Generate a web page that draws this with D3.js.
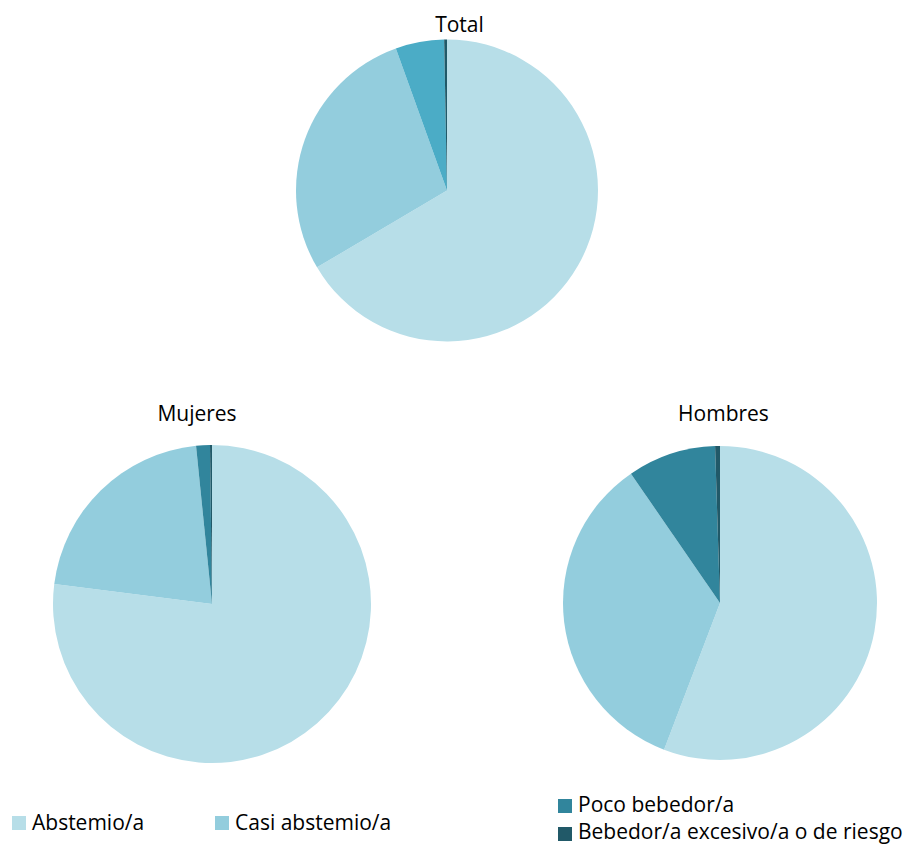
<!DOCTYPE html>
<html><head><meta charset="utf-8">
<script src="https://cdn.jsdelivr.net/npm/d3@7"></script>
<style>body{margin:0;background:#fff}svg{display:block}text{font-family:"Open Sans",Lato,sans-serif;fill:#000}</style>
</head><body>
<svg id="c" width="905" height="844"></svg>
<script>
const categories = ["Abstemio/a", "Casi abstemio/a", "Poco bebedor/a", "Bebedor/a excesivo/a o de riesgo"];
const totalValues = [66.5, 28.0, 5.2, 0.3];
const mujeresValues = [77.0, 21.4, 1.4, 0.2];
const hombresValues = [55.8, 34.6, 9.1, 0.5];
const pieTitles = ["Total", "Mujeres", "Hombres"];
const colors = ["#B7DEE8", "#93CDDD", "#31859C", "#215968"];
const totalColors = ["#B7DEE8", "#93CDDD", "#4BACC6", "#215968"];

const svg = d3.select("#c");
const pies = [
  {title: pieTitles[0], values: totalValues, cx: 447, cy: 190.5, r: 151, tx: 459.5, ty: 32, colors: totalColors},
  {title: pieTitles[1], values: mujeresValues, cx: 212, cy: 604, r: 159, tx: 197, ty: 421, colors: colors},
  {title: pieTitles[2], values: hombresValues, cx: 720, cy: 603, r: 157, tx: 723.5, ty: 421, colors: colors}
];
const pie = d3.pie().sort(null).value(d => d);
pies.forEach(p => {
  const arc = d3.arc().innerRadius(0).outerRadius(p.r);
  const g = svg.append("g").attr("transform", `translate(${p.cx},${p.cy})`);
  g.selectAll("path").data(pie(p.values)).join("path")
    .attr("d", arc).attr("fill", (d, i) => p.colors[i]);
  svg.append("text").attr("x", p.tx).attr("y", p.ty).attr("text-anchor", "middle")
    .style("font-size", "21px").text(p.title);
});
const legendPos = [
  {x: 12, y: 816, ty: 830}, {x: 215, y: 816, ty: 830}, {x: 558, y: 799, ty: 812}, {x: 558, y: 827, ty: 839}
];
categories.forEach((c, i) => {
  const lp = legendPos[i];
  svg.append("rect").attr("x", lp.x).attr("y", lp.y).attr("width", 14).attr("height", 14).attr("fill", colors[i]);
  svg.append("text").attr("x", lp.x + 20).attr("y", lp.ty).style("font-size", "21px").text(c);
});
</script>
</body></html>
